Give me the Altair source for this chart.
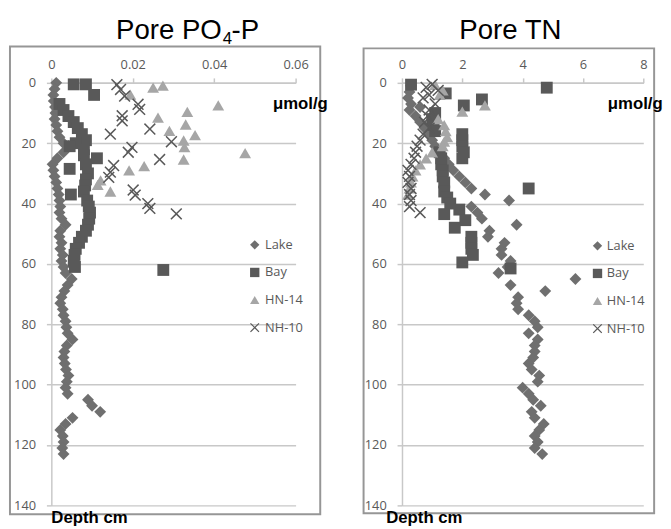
import altair as alt
import pandas as pd

# ---------------- data ----------------
series_order = ["Lake", "Bay", "HN-14", "NH-10"]
series_colors = ["#6f6f6f", "#595959", "#a6a6a6", "#595959"]
X_PATH = "M-1,-0.82L-0.82,-1L0,-0.18L0.82,-1L1,-0.82L0.18,0L1,0.82L0.82,1L0,0.18L-0.82,1L-1,0.82L-0.18,0Z"
series_shapes = ["diamond", "square", "triangle-up", X_PATH]

depth_ticks = [0, 20, 40, 60, 80, 100, 120, 140]
po4_ticks = [0, 0.02, 0.04, 0.06]
tn_ticks = [0, 2, 4, 6, 8]

# Pore PO4-P (umol/g) vs depth (cm)
po4_lake_depth = [0, 2, 4, 6, 8, 10, 12, 14, 16, 18, 20, 21, 23, 25, 27, 29, 31, 33, 35, 37,
                  39, 41, 43, 45, 47, 49, 51, 53, 55, 57, 59, 61, 63, 65, 67, 69, 71, 73, 75, 77,
                  79, 81, 83, 85, 87, 89, 91, 93, 95, 97, 99, 101, 103, 105, 107, 109, 111, 113, 115, 117,
                  119, 121, 123]
po4_lake_val = [0.0012, 0.0008, 0.0005, 0.0006, 0.0009, 0.0010, 0.0008, 0.0012, 0.0015, 0.0020,
                0.0030, 0.0042, 0.0030, 0.0015, 0.0003, 0.0005, 0.0008, 0.0012, 0.0015, 0.0018,
                0.0020, 0.0022, 0.0020, 0.0025, 0.0035, 0.0022, 0.0020, 0.0025, 0.0022, 0.0028,
                0.0025, 0.0030, 0.0035, 0.0050, 0.0040, 0.0032, 0.0025, 0.0022, 0.0028, 0.0030,
                0.0035, 0.0037, 0.0040, 0.0052, 0.0038, 0.0032, 0.0030, 0.0033, 0.0036, 0.0042,
                0.0038, 0.0035, 0.0040, 0.0090, 0.0100, 0.0120, 0.0052, 0.0035, 0.0022, 0.0028,
                0.0030, 0.0027, 0.0030]
po4_bay_depth = [0.5, 0.5, 4, 7, 9, 11, 13, 15, 17, 19, 20, 21, 22, 24, 25, 27, 28.5, 30, 32, 34,
                 36, 37, 39, 41, 43, 45, 47, 49, 51, 53, 55, 57, 59, 61, 62]
po4_bay_val = [0.0055, 0.0085, 0.0105, 0.0020, 0.0030, 0.0042, 0.0055, 0.0065, 0.0075, 0.0085,
               0.0060, 0.0045, 0.0080, 0.0080, 0.0112, 0.0085, 0.0045, 0.0090, 0.0085, 0.0083,
               0.0080, 0.0048, 0.0088, 0.0092, 0.0095, 0.0093, 0.0090, 0.0085, 0.0075, 0.0068,
               0.0060, 0.0057, 0.0055, 0.0058, 0.0275]
po4_hn_depth = [1.6, 0.9, 3.9, 7.5, 9.6, 11.5, 13.8, 15.9, 17.3, 19.1, 21.3, 23.3, 25.4, 27.6, 29,
                32.3, 33.8, 36]
po4_hn_val = [0.0250, 0.0274, 0.0194, 0.0410, 0.0334, 0.0262, 0.0330, 0.0290, 0.0353, 0.0325,
              0.0327, 0.0476, 0.0325, 0.0228, 0.0191, 0.0121, 0.0114, 0.0145]
po4_nh_depth = [0.6, 2.2, 4.4, 7.1, 8.8, 10.9, 12.6, 15.3, 17, 19.5, 21.4, 23, 25.4, 27.4, 29.6,
                31.3, 35.5, 37.2, 40, 41.6, 43.4]
po4_nh_val = [0.0161, 0.0170, 0.0180, 0.0213, 0.0217, 0.0174, 0.0174, 0.0242, 0.0145, 0.0295,
              0.0198, 0.0189, 0.0266, 0.0153, 0.0145, 0.0141, 0.0201, 0.0206, 0.0237, 0.0242,
              0.0307]

# Pore TN (umol/g) vs depth (cm)
tn_lake_depth = [1, 3, 5, 7, 8, 9, 11, 13, 15, 17, 19, 21, 23, 25, 27, 29, 31, 33, 35, 37,
                 39, 41, 43, 45, 47, 49, 51, 53, 55, 57, 59, 61, 63, 65, 67, 69, 71, 73, 75, 77,
                 79, 81, 83, 85, 87, 89, 91, 93, 95, 97, 99, 101, 103, 105, 107, 109, 111, 113, 115, 117,
                 119, 121, 123]
tn_lake_val = [0.3, 0.25, 0.2, 0.3, 0.6, 0.25, 0.45, 0.6, 0.75, 0.9, 1.0, 1.1, 1.25, 1.4, 1.55,
               1.7, 1.9, 2.1, 2.3, 2.75, 3.55, 2.3, 2.5, 2.65, 3.8, 2.9, 2.85, 3.4, 3.3, 3.3,
               3.6, 3.5, 3.2, 5.75, 3.6, 4.75, 3.85, 3.8, 3.85, 4.2, 4.4, 4.5, 4.2, 4.5, 4.4,
               4.4, 4.35, 4.2, 4.3, 4.55, 4.5, 4.0, 4.2, 4.35, 4.6, 4.3, 4.4, 4.7, 4.55, 4.4,
               4.5, 4.4, 4.65]
tn_bay_depth = [0.6, 1.6, 3.5, 5.5, 7.5, 10, 12, 14, 16, 17, 19, 21, 23, 25, 23, 25, 27, 29, 31, 33,
                35, 36, 38, 40, 42, 43.5, 45.5, 48, 51, 53, 55, 57, 59.5, 61.5]
tn_bay_val = [0.3, 4.8, 1.45, 2.65, 2.05, 1.1, 1.0, 1.05, 1.1, 2.0, 2.0, 2.0, 2.05, 2.0, 1.25,
              1.3, 1.3, 1.35, 1.35, 1.4, 4.2, 1.4, 1.5, 1.6, 1.9, 1.4, 2.1, 1.75, 2.3, 2.3,
              2.3, 2.35, 2.0, 3.6]
tn_hn_depth = [0.7, 2.5, 4, 7.5, 9.5, 12, 14, 16, 18, 19.5, 21, 23, 25, 27, 29, 31, 33, 35, 37]
tn_hn_val = [1.1, 1.35, 1.25, 2.75, 2.0, 1.2, 1.4, 1.45, 1.5, 1.4, 1.35, 1.0, 0.8, 0.6, 0.45,
             0.35, 0.3, 0.25, 0.2]
tn_nh_depth = [0.5, 1.5, 2.5, 4, 5, 7, 9, 11, 13, 15, 17, 19, 21, 23, 25, 27, 29, 31, 33, 35,
               37, 39, 41, 43]
tn_nh_val = [1.0, 0.8, 1.2, 0.9, 0.7, 1.1, 0.9, 0.85, 0.75, 0.9, 0.7, 0.6, 0.5, 0.45, 0.4, 0.3,
             0.2, 0.25, 0.2, 0.3, 0.25, 0.3, 0.25, 0.6]


def long_table(parts):
    rows = []
    for name, depths, vals in parts:
        for d, v in zip(depths, vals):
            rows.append({"series": name, "depth": d, "value": v})
    return pd.DataFrame(rows)


po4_df = long_table([("Lake", po4_lake_depth, po4_lake_val), ("Bay", po4_bay_depth, po4_bay_val),
                     ("HN-14", po4_hn_depth, po4_hn_val), ("NH-10", po4_nh_depth, po4_nh_val)])
tn_df = long_table([("Lake", tn_lake_depth, tn_lake_val), ("Bay", tn_bay_depth, tn_bay_val),
                    ("HN-14", tn_hn_depth, tn_hn_val), ("NH-10", tn_nh_depth, tn_nh_val)])

one = pd.DataFrame({"k": [0]})
TITLE_FONT = "Liberation Sans"
LABEL_FONT = "Open Sans"
GRID = "#c8c8c8"
LBL = "#595959"
H = 429


def panel(df, xmax, xticks, xfmt, width, legend_xy, label_offset, frame, titles, unit_x, depth_x):
    leg = alt.Legend(orient="none", legendX=legend_xy[0], legendY=legend_xy[1], title=None,
                     symbolSize=90, labelFont=LABEL_FONT, labelFontSize=13, labelColor=LBL,
                     rowPadding=14, padding=0, labelOffset=label_offset, symbolStrokeWidth=0)
    pts = alt.Chart(df).mark_point(filled=True, size=145, opacity=1).encode(
        x=alt.X("value:Q", scale=alt.Scale(domain=[0, xmax], nice=False, zero=True),
                axis=alt.Axis(orient="top", values=xticks, format=xfmt, grid=False, title=None,
                              domainColor=GRID, domainWidth=1.5, tickColor=GRID, tickWidth=1.5,
                              tickSize=5, labelPadding=7, labelFont=LABEL_FONT, labelFontSize=13,
                              labelColor=LBL, labelFlush=False)),
        y=alt.Y("depth:Q", scale=alt.Scale(domain=[0, 140], reverse=True, nice=False),
                axis=alt.Axis(values=depth_ticks, grid=True, gridColor=GRID, gridWidth=1.5,
                              title=None, domainColor=GRID, domainWidth=1.5, tickColor=GRID,
                              tickWidth=1.5, tickSize=5, labelPadding=11, labelFont=LABEL_FONT,
                              labelFontSize=13, labelColor=LBL)),
        color=alt.Color("series:N", scale=alt.Scale(domain=series_order, range=series_colors),
                        legend=leg),
        shape=alt.Shape("series:N", scale=alt.Scale(domain=series_order, range=series_shapes),
                        legend=leg),
    )
    fr = alt.Chart(one).mark_rect(fill=None, stroke="#969696", strokeWidth=2).encode(
        x=alt.value(frame[0]), x2=alt.value(frame[1]), y=alt.value(frame[2]), y2=alt.value(frame[3]))
    layers = [fr, pts]
    for txt, tx, ty, size, align, weight in titles:
        layers.append(alt.Chart(one).mark_text(text=txt, font=TITLE_FONT, fontSize=size, align=align,
                                               baseline="alphabetic", fontWeight=weight,
                                               color="#000000").encode(
            x=alt.value(tx), y=alt.value(ty)))
    layers.append(alt.Chart(one).mark_text(text="μmol/g", font=TITLE_FONT, fontSize=17,
                                           fontWeight="bold", align="left", baseline="alphabetic",
                                           color="#000000").encode(x=alt.value(unit_x), y=alt.value(27)))
    layers.append(alt.Chart(one).mark_text(text="Depth cm", font=TITLE_FONT, fontSize=17,
                                           fontWeight="bold", align="left", baseline="alphabetic",
                                           color="#000000").encode(x=alt.value(depth_x), y=alt.value(447)))
    return alt.layer(*layers).properties(width=width, height=H)


left = panel(po4_df, 0.06, po4_ticks, ".2~f", 248, (200, 158), 4, (-42, 273, -37, 438),
             [("Pore PO", 173, -45, 28, "right", "normal"),
              ("4", 174, -39, 17, "left", "normal"),
              ("-P", 183, -45, 28, "left", "normal")],
             225, 0)
right = panel(tn_df, 8, tn_ticks, "d", 245, (192, 159), 3, (-39, 256, -35, 437),
              [("Pore TN", 110, -45, 28, "center", "normal")],
              209, -16)

chart = alt.hconcat(left, right, spacing=108, bounds="flush").resolve_scale(
    color="independent", shape="independent").properties(
    padding={"top": 5, "left": 1, "right": 0, "bottom": 0}).configure_view(stroke=None)

chart.save("out.html", embed_options={"renderer": "svg", "actions": False})
